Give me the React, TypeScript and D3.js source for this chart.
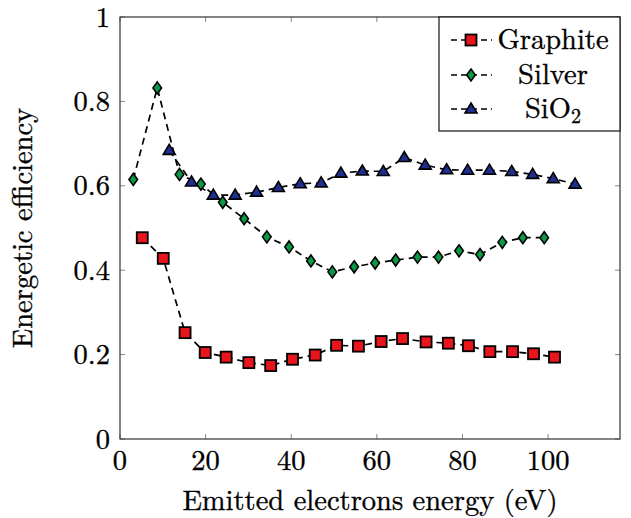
import React from "react";
import * as d3 from "d3";

const graphiteX = [5.2, 10.1, 15.2, 19.9, 24.8, 30.1, 35.2, 40.3, 45.6, 50.6, 55.7, 61.0, 66.0, 71.5, 76.7, 81.4, 86.4, 91.7, 96.6, 101.5];
const graphiteY = [0.477, 0.428, 0.252, 0.205, 0.194, 0.181, 0.174, 0.189, 0.199, 0.222, 0.220, 0.231, 0.238, 0.230, 0.227, 0.221, 0.207, 0.207, 0.202, 0.194];

const silverX = [3.1, 8.7, 13.9, 18.9, 24.0, 29.0, 34.3, 39.5, 44.6, 49.6, 54.7, 59.6, 64.4, 69.5, 74.4, 79.2, 84.1, 89.3, 94.1, 99.1];
const silverY = [0.615, 0.832, 0.627, 0.604, 0.561, 0.522, 0.479, 0.455, 0.422, 0.396, 0.408, 0.417, 0.424, 0.431, 0.431, 0.446, 0.437, 0.466, 0.477, 0.477];

const sio2X = [11.5, 16.7, 21.8, 26.9, 31.9, 37.0, 42.1, 47.0, 51.6, 56.6, 61.5, 66.4, 71.3, 76.3, 81.2, 86.3, 91.5, 96.4, 101.2, 106.3];
const sio2Y = [0.684, 0.609, 0.578, 0.578, 0.585, 0.596, 0.605, 0.607, 0.630, 0.635, 0.634, 0.667, 0.649, 0.638, 0.637, 0.637, 0.634, 0.627, 0.617, 0.604];

const xTicks = [0, 20, 40, 60, 80, 100];
const yTicks = [0, 0.2, 0.4, 0.6, 0.8, 1];
const yTickLabels = ["0", "0.2", "0.4", "0.6", "0.8", "1"];

const FONT = `"Latin Modern Roman", "Liberation Serif", "DejaVu Serif", serif`;
const ts = { fontFamily: FONT };
const FS = 28.5;
const textProps = { fill: "#000", stroke: "#000", strokeWidth: 0.35, fontSize: FS, style: ts };

type Kind = "square" | "diamond" | "triangle";

function Marker({ kind, cx, cy }: { kind: Kind; cx: number; cy: number }) {
  if (kind === "square") {
    return <rect x={cx - 5.5} y={cy - 5.5} width={11} height={11} fill="#e8161c" stroke="#000" strokeWidth={1.8} />;
  }
  if (kind === "diamond") {
    const p = `${cx},${cy - 6} ${cx + 4.3},${cy} ${cx},${cy + 6} ${cx - 4.3},${cy}`;
    return <polygon points={p} fill="#0a9a45" stroke="#000" strokeWidth={1.6} />;
  }
  const p = `${cx},${cy - 6} ${cx + 6},${cy + 4} ${cx - 6},${cy + 4}`;
  return <polygon points={p} fill="#1f2f8f" stroke="#000" strokeWidth={1.6} />;
}

export default function App() {
  const W = 631, H = 518;
  const left = 120, right = 620, top = 17, bottom = 439;
  const x = d3.scaleLinear().domain([0, 116.8]).range([left, right]);
  const y = d3.scaleLinear().domain([0, 1]).range([bottom, top]);

  const series = [
    { name: "Graphite", xs: graphiteX, ys: graphiteY, kind: "square" as Kind },
    { name: "Silver", xs: silverX, ys: silverY, kind: "diamond" as Kind },
    { name: "SiO2", xs: sio2X, ys: sio2Y, kind: "triangle" as Kind },
  ];

  const line = d3.line<[number, number]>().x((d) => x(d[0])).y((d) => y(d[1]));

  const legendRows = [40, 75, 109];

  return (
    <svg width={W} height={H} style={{ position: "absolute", left: 0, top: 0, background: "#fff" }}>
      <rect x={0} y={0} width={W} height={H} fill="#fff" />
      {xTicks.map((t) => (
        <g key={"xt" + t}>
          <line x1={x(t)} x2={x(t)} y1={bottom} y2={bottom - 5} stroke="#888" strokeWidth={1} />
          <line x1={x(t)} x2={x(t)} y1={top} y2={top + 5} stroke="#888" strokeWidth={1} />
          <text x={x(t)} y={470} textAnchor="middle" {...textProps}>{t}</text>
        </g>
      ))}
      {yTicks.map((t, i) => (
        <g key={"yt" + t}>
          <line x1={left} x2={left + 5} y1={y(t)} y2={y(t)} stroke="#888" strokeWidth={1} />
          <line x1={right} x2={right - 5} y1={y(t)} y2={y(t)} stroke="#888" strokeWidth={1} />
          <text x={110} y={y(t) + 9.5} textAnchor="end" {...textProps}>{yTickLabels[i]}</text>
        </g>
      ))}
      {series.map((s) => (
        <path key={"l" + s.name} d={line(s.xs.map((v, i) => [v, s.ys[i]]) as [number, number][]) || ""} fill="none" stroke="#000" strokeWidth={1.7} strokeDasharray="7,5" />
      ))}
      {series.map((s) => (
        <g key={"m" + s.name}>
          {s.xs.map((v, i) => (
            <Marker key={i} kind={s.kind} cx={x(v)} cy={y(s.ys[i])} />
          ))}
        </g>
      ))}
      <rect x={left} y={top} width={right - left} height={bottom - top} fill="none" stroke="#333" strokeWidth={1.2} />
      <rect x={439} y={top} width={right - 439} height={131 - top} fill="#fff" stroke="#111" strokeWidth={1.2} />
      {series.map((s, i) => (
        <g key={"lg" + s.name}>
          <line x1={450} x2={492} y1={legendRows[i]} y2={legendRows[i]} stroke="#000" strokeWidth={1.7} strokeDasharray="6,4" strokeDashoffset={-1} />
          <Marker kind={s.kind} cx={471} cy={legendRows[i]} />
          <text x={553} y={legendRows[i] + 9} textAnchor="middle" {...textProps}>
            {s.name === "SiO2" ? (
              <>
                SiO<tspan fontSize={20} dy={5}>2</tspan>
              </>
            ) : s.name}
          </text>
        </g>
      ))}
      <text x={(left + right) / 2} y={510} textAnchor="middle" {...textProps}>Emitted electrons energy (eV)</text>
      <text transform={`translate(32, ${(top + bottom) / 2}) rotate(-90)`} textAnchor="middle" {...textProps}>Energetic efficiency</text>
    </svg>
  );
}
